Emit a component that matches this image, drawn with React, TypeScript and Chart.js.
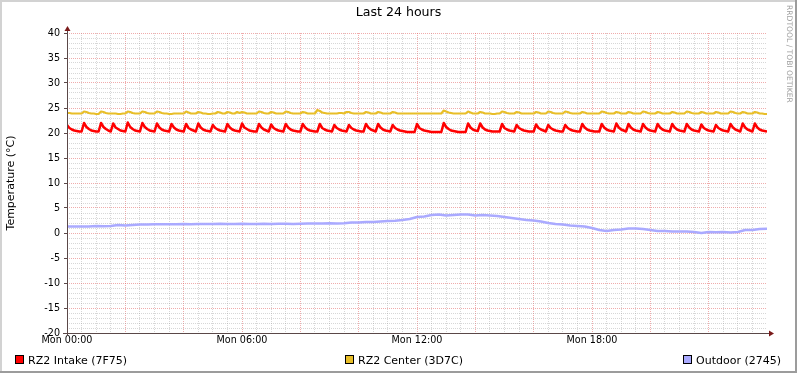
import React, { useEffect, useRef } from 'react';
import { Chart, registerables } from 'chart.js';

Chart.register(...registerables);

const W = 797;
const H = 373;

const TITLE = 'Last 24 hours';
const Y_TITLE = 'Temperature (°C)';
const WATERMARK = 'RRDTOOL / TOBI OETIKER';
const X_LABEL_HOURS = [0, 6, 12, 18];
const X_LABELS = ['Mon 00:00', 'Mon 06:00', 'Mon 12:00', 'Mon 18:00'];
const Y_MIN = -20;
const Y_MAX = 40;
const X_MIN_H = 0;
const X_MAX_H = 24;
const SERIES_NAMES = ['RZ2 Intake (7F75)', 'RZ2 Center (3D7C)', 'Outdoor (2745)'];
const SERIES_COLORS = ['#ff0000', '#e8be28', '#aaaaff'];
const FAST_STEP_H = 5 / 60;
const SLOW_STEP_H = 15 / 60;

// RZ2 Intake, 5-minute samples
const intake = [
  21.6, 21.0, 20.7, 20.5, 20.4, 20.3, 20.3, 22.0, 21.2, 20.8, 20.5, 20.4, 20.3, 20.3, 22.0, 21.2, 20.8, 20.5, 20.3, 21.9, 21.1, 20.8, 20.5, 20.4,
  20.3, 22.1, 21.2, 20.8, 20.5, 20.4, 20.3, 22.0, 21.2, 20.8, 20.5, 20.4, 20.3, 21.9, 21.1, 20.7, 20.5, 20.4, 20.3, 21.8, 21.1, 20.7, 20.5, 20.4,
  20.3, 21.8, 21.0, 20.7, 20.5, 20.3, 21.9, 21.1, 20.7, 20.5, 20.4, 20.3, 21.6, 21.0, 20.7, 20.5, 20.4, 20.3, 21.8, 21.1, 20.7, 20.5, 20.4, 20.3,
  21.9, 21.1, 20.8, 20.5, 20.4, 20.3, 20.3, 21.8, 21.1, 20.7, 20.5, 20.3, 21.7, 21.0, 20.7, 20.5, 20.4, 20.3, 21.8, 21.1, 20.7, 20.5, 20.4, 20.3,
  20.3, 21.8, 21.1, 20.7, 20.5, 20.4, 20.3, 20.3, 21.8, 21.0, 20.7, 20.5, 20.4, 20.3, 21.6, 21.0, 20.7, 20.5, 20.4, 20.3, 21.6, 21.0, 20.7, 20.5,
  20.4, 20.3, 20.3, 21.8, 21.1, 20.7, 20.5, 20.3, 21.8, 21.1, 20.7, 20.5, 20.4, 20.3, 21.6, 21.0, 20.7, 20.5, 20.4, 20.3, 20.2, 20.2, 20.2, 20.2,
  21.8, 21.0, 20.7, 20.5, 20.4, 20.3, 20.2, 20.2, 20.2, 20.2, 20.2, 22.0, 21.2, 20.8, 20.5, 20.4, 20.3, 20.2, 20.2, 20.2, 20.2, 21.9, 21.1, 20.7,
  20.5, 20.4, 21.9, 21.1, 20.7, 20.5, 20.4, 20.3, 20.3, 20.3, 20.3, 21.8, 21.0, 20.7, 20.5, 20.4, 20.3, 21.6, 21.0, 20.7, 20.5, 20.4, 20.3, 20.3,
  20.3, 21.7, 21.0, 20.7, 20.5, 20.3, 21.6, 21.0, 20.7, 20.5, 20.4, 20.3, 20.3, 21.6, 21.0, 20.7, 20.5, 20.4, 20.3, 20.3, 21.8, 21.1, 20.7, 20.5,
  20.4, 20.3, 20.3, 20.3, 21.8, 21.1, 20.7, 20.5, 20.4, 20.3, 21.9, 21.1, 20.7, 20.5, 20.3, 21.8, 21.1, 20.7, 20.5, 20.4, 20.3, 21.8, 21.1, 20.7,
  20.5, 20.4, 20.3, 21.8, 21.1, 20.7, 20.5, 20.4, 20.3, 21.8, 21.1, 20.7, 20.5, 20.4, 20.3, 21.8, 21.1, 20.7, 20.5, 20.4, 20.3, 21.7, 21.0, 20.7,
  20.5, 20.4, 20.3, 21.6, 21.0, 20.7, 20.5, 20.4, 20.3, 21.8, 21.1, 20.7, 20.5, 20.3, 21.9, 21.1, 20.7, 20.5, 20.3, 21.9, 21.1, 20.7, 20.5, 20.4,
  20.3,
];

// RZ2 Center, 5-minute samples
const center = [
  24.0, 24.0, 23.9, 23.9, 23.9, 23.9, 23.9, 24.3, 24.2, 24.0, 23.9, 23.9, 23.8, 23.8, 24.3, 24.2, 24.0, 23.9, 23.9, 23.9, 23.9, 23.8, 23.8, 23.9,
  23.9, 24.3, 24.2, 24.0, 23.9, 23.9, 23.9, 24.3, 24.2, 24.0, 23.9, 23.9, 23.9, 24.3, 24.2, 24.0, 23.9, 23.9, 23.8, 23.8, 23.9, 23.9, 23.9, 23.9,
  23.9, 24.3, 24.1, 23.9, 23.9, 23.9, 24.2, 24.1, 23.9, 23.9, 23.8, 23.8, 23.9, 23.9, 24.2, 24.1, 23.9, 23.9, 24.2, 24.1, 23.9, 23.9, 24.2, 24.0,
  24.2, 24.1, 23.9, 23.9, 23.9, 23.9, 23.9, 24.3, 24.2, 24.0, 23.9, 23.9, 24.2, 24.1, 23.9, 23.9, 23.9, 23.9, 24.3, 24.2, 24.0, 23.9, 23.9, 23.9,
  23.9, 24.2, 24.1, 23.9, 23.9, 23.9, 23.9, 24.6, 24.4, 24.1, 24.0, 23.9, 23.9, 23.9, 23.9, 23.9, 24.0, 24.0, 23.9, 24.2, 24.2, 24.0, 23.9, 23.9,
  23.9, 23.9, 23.9, 24.2, 24.1, 23.9, 23.9, 23.9, 24.2, 24.1, 23.9, 23.9, 23.9, 23.9, 24.2, 24.1, 23.9, 23.9, 23.9, 23.9, 23.9, 23.9, 23.9, 23.9,
  23.9, 23.9, 23.9, 23.9, 23.9, 23.9, 23.9, 23.9, 23.9, 23.9, 23.9, 24.5, 24.3, 24.1, 24.0, 23.9, 23.9, 23.9, 23.9, 23.9, 23.9, 24.3, 24.1, 23.9,
  23.9, 23.9, 24.2, 24.1, 23.9, 23.9, 23.9, 23.8, 23.8, 23.9, 23.9, 24.3, 24.2, 24.0, 23.9, 23.9, 23.9, 24.2, 24.1, 23.9, 23.9, 23.9, 23.9, 23.9,
  23.9, 24.2, 24.1, 23.9, 23.9, 23.9, 24.3, 24.2, 24.0, 23.9, 23.9, 23.9, 23.9, 24.3, 24.2, 24.0, 23.9, 23.9, 23.9, 23.9, 24.2, 24.1, 23.9, 23.9,
  23.9, 23.9, 23.9, 23.9, 24.3, 24.2, 24.0, 23.9, 23.9, 23.9, 24.2, 24.1, 23.9, 23.9, 23.9, 24.2, 24.1, 23.9, 23.9, 23.9, 23.9, 24.3, 24.2, 24.0,
  23.9, 23.9, 23.9, 24.2, 24.1, 23.9, 23.9, 23.9, 23.9, 24.2, 24.1, 23.9, 23.9, 23.9, 23.9, 24.3, 24.2, 24.0, 23.9, 23.9, 23.9, 24.2, 24.1, 23.9,
  23.9, 23.9, 23.9, 24.2, 24.1, 23.9, 23.9, 23.9, 23.9, 24.3, 24.2, 24.0, 23.9, 23.9, 24.2, 24.1, 23.9, 23.9, 23.9, 24.2, 24.1, 23.9, 23.9, 23.8,
  23.8,
];

// Outdoor, 15-minute samples
const outdoor = [
  1.3, 1.3, 1.3, 1.3, 1.4, 1.35, 1.4, 1.6, 1.5, 1.6, 1.7, 1.7,
  1.75, 1.75, 1.75, 1.75, 1.8, 1.75, 1.8, 1.8, 1.8, 1.85, 1.8, 1.8,
  1.85, 1.8, 1.8, 1.85, 1.8, 1.85, 1.85, 1.8, 1.85, 1.9, 1.9, 1.9,
  1.95, 1.9, 1.95, 2.1, 2.1, 2.2, 2.2, 2.3, 2.4, 2.45, 2.6, 2.8,
  3.2, 3.3, 3.6, 3.7, 3.5, 3.6, 3.7, 3.7, 3.5, 3.6, 3.5, 3.4,
  3.2, 3.0, 2.8, 2.6, 2.5, 2.3, 2.0, 1.8, 1.7, 1.5, 1.4, 1.3,
  1.0, 0.6, 0.4, 0.6, 0.7, 0.9, 0.9, 0.8, 0.6, 0.4, 0.4, 0.3,
  0.3, 0.3, 0.2, 0.0, 0.2, 0.15, 0.2, 0.1, 0.2, 0.6, 0.6, 0.8,
  0.85,
];

const FONT = "'DejaVu Sans', sans-serif";
const MAJOR_GRID = 'rgba(225,90,90,0.5)';
const MINOR_GRID = 'rgba(150,150,150,0.38)';

const toPoints = (vals: number[], step: number) => vals.map((v, i) => ({ x: i * step, y: v }));

const decorPlugin = {
  id: 'rrdDecor',
  beforeDraw(chart: any) {
    const { ctx } = chart;
    ctx.save();
    ctx.fillStyle = '#ffffff';
    ctx.fillRect(0, 0, W, H);
    ctx.restore();
  },
  afterDraw(chart: any) {
    const { ctx, chartArea } = chart;
    const { left, right, top, bottom } = chartArea;
    ctx.save();
    // frame
    ctx.fillStyle = '#d2d2d2';
    ctx.fillRect(0, 0, W, 2);
    ctx.fillRect(0, 0, 2, H);
    ctx.fillStyle = '#9c9c9c';
    ctx.fillRect(W - 2, 0, 2, H);
    ctx.fillRect(0, H - 2, W, 2);

    // axes
    const ax = Math.round(left) + 0.5;
    const ay = Math.round(bottom) + 0.5;
    ctx.strokeStyle = '#5a4848';
    ctx.lineWidth = 1;
    ctx.beginPath();
    ctx.moveTo(ax, bottom + 3);
    ctx.lineTo(ax, top - 3);
    ctx.moveTo(left - 4, ay);
    ctx.lineTo(right + 3, ay);
    ctx.stroke();
    ctx.fillStyle = '#7a1a1a';
    ctx.beginPath();
    ctx.moveTo(ax, top - 7);
    ctx.lineTo(ax - 3, top - 2);
    ctx.lineTo(ax + 3, top - 2);
    ctx.closePath();
    ctx.fill();
    ctx.beginPath();
    ctx.moveTo(right + 7, ay);
    ctx.lineTo(right + 2, ay - 3);
    ctx.lineTo(right + 2, ay + 3);
    ctx.closePath();
    ctx.fill();

    // title
    ctx.fillStyle = '#000000';
    ctx.font = `12.6px ${FONT}`;
    ctx.textAlign = 'center';
    ctx.textBaseline = 'middle';
    ctx.fillText(TITLE, W / 2, 13);

    // y title
    ctx.save();
    ctx.font = `11px ${FONT}`;
    ctx.translate(11, (top + bottom) / 2);
    ctx.rotate(-Math.PI / 2);
    ctx.textAlign = 'center';
    ctx.textBaseline = 'middle';
    ctx.fillText(Y_TITLE, 0, 0);
    ctx.restore();

    // watermark
    ctx.save();
    ctx.font = `7.6px ${FONT}`;
    ctx.fillStyle = '#a0a0a0';
    ctx.translate(789, 5);
    ctx.rotate(Math.PI / 2);
    ctx.textAlign = 'left';
    ctx.textBaseline = 'middle';
    ctx.fillText(WATERMARK, 0, 0);
    ctx.restore();

    // legend
    const legendX = [15, 345, 683];
    ctx.font = `11px ${FONT}`;
    ctx.textAlign = 'left';
    ctx.textBaseline = 'alphabetic';
    SERIES_NAMES.forEach((name, i) => {
      const x = legendX[i];
      ctx.fillStyle = SERIES_COLORS[i];
      ctx.fillRect(x, 355, 9, 9);
      ctx.strokeStyle = '#000000';
      ctx.lineWidth = 1;
      ctx.strokeRect(x + 0.5, 355.5, 8, 8);
      ctx.fillStyle = '#000000';
      ctx.fillText(name, x + 13, 363.5);
    });
    ctx.restore();
  },
};

export default function App() {
  const ref = useRef<HTMLCanvasElement | null>(null);

  useEffect(() => {
    document.body.style.margin = '0';
    const canvas = ref.current;
    if (!canvas) return;
    const chart = new Chart(canvas, {
      type: 'line',
      data: {
        datasets: [
          {
            label: SERIES_NAMES[0],
            data: toPoints(intake, FAST_STEP_H),
            borderColor: SERIES_COLORS[0],
            borderWidth: 2.5,
            pointRadius: 0,
            tension: 0,
            borderJoinStyle: 'round',
          },
          {
            label: SERIES_NAMES[1],
            data: toPoints(center, FAST_STEP_H),
            borderColor: SERIES_COLORS[1],
            borderWidth: 2.2,
            pointRadius: 0,
            tension: 0,
            borderJoinStyle: 'round',
          },
          {
            label: SERIES_NAMES[2],
            data: toPoints(outdoor, SLOW_STEP_H),
            borderColor: SERIES_COLORS[2],
            borderWidth: 2.6,
            pointRadius: 0,
            tension: 0,
            borderJoinStyle: 'round',
          },
        ],
      },
      options: {
        animation: false,
        responsive: false,
        devicePixelRatio: 1,
        layout: { padding: { left: 0, right: 30, top: 33, bottom: 0 } },
        plugins: {
          legend: { display: false },
          title: { display: false },
          tooltip: { enabled: false },
        },
        scales: {
          x: {
            type: 'linear',
            min: X_MIN_H,
            max: X_MAX_H,
            afterFit: (s: any) => {
              s.height = 40;
            },
            ticks: {
              stepSize: 0.5,
              autoSkip: false,
              maxRotation: 0,
              minRotation: 0,
              padding: 2,
              color: '#000000',
              font: { family: FONT, size: 9.6 },
              callback: (v: any) => {
                const k = X_LABEL_HOURS.indexOf(Number(v));
                return k >= 0 ? X_LABELS[k] : '';
              },
            },
            grid: {
              drawTicks: false,
              lineWidth: 1,
              color: (c: any) => {
                const v = c.tick ? c.tick.value : 0;
                if (v <= X_MIN_H || v >= X_MAX_H) return 'rgba(0,0,0,0)';
                return v % 2 === 0 ? MAJOR_GRID : MINOR_GRID;
              },
            },
            border: { display: false, dash: [1, 1] },
          },
          y: {
            type: 'linear',
            min: Y_MIN,
            max: Y_MAX,
            afterFit: (s: any) => {
              s.width = 67;
            },
            ticks: {
              stepSize: 1,
              autoSkip: false,
              padding: 4,
              color: '#000000',
              font: { family: FONT, size: 9.6 },
              callback: (v: any) => (Number(v) % 5 === 0 ? String(v) : ''),
            },
            grid: {
              drawTicks: true,
              tickLength: 3,
              lineWidth: 1,
              tickColor: (c: any) => {
                const v = c.tick ? c.tick.value : 0;
                return v % 5 === 0 ? '#5a4848' : 'rgba(0,0,0,0)';
              },
              color: (c: any) => {
                const v = c.tick ? c.tick.value : 0;
                if (v <= Y_MIN) return 'rgba(0,0,0,0)';
                return v % 5 === 0 ? MAJOR_GRID : MINOR_GRID;
              },
            },
            border: { display: false, dash: [1, 1] },
          },
        },
      },
      plugins: [decorPlugin],
    } as any);
    return () => chart.destroy();
  }, []);

  return <canvas ref={ref} width={W} height={H} style={{ display: 'block', width: W, height: H }} />;
}
